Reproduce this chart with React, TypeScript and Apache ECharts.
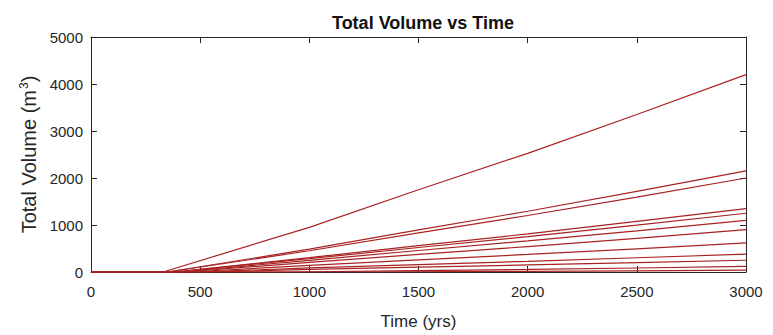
import React, { useEffect, useRef } from "react";
import * as echarts from "echarts";

const titleText = "Total Volume vs Time";
const xName = "Time (yrs)";
const yName = "Total Volume (m{sup|3})";
const xTicks = { min: 0, max: 3000, interval: 500 };
const yTicks = { min: 0, max: 5000, interval: 1000 };

// each series: [time, volume] points
const lineA = [[0, 0], [330, 0], [1000, 950], [1500, 1750], [2000, 2525], [2500, 3350], [3000, 4200]];
const lineB = [[0, 0], [350, 0], [1000, 486], [1500, 896], [2000, 1293], [2500, 1715], [3000, 2150]];
const lineC = [[0, 0], [350, 0], [1000, 452], [1500, 833], [2000, 1202], [2500, 1595], [3000, 2000]];
const lineD = [[0, 0], [380, 0], [1000, 305], [1500, 562], [2000, 811], [2500, 1076], [3000, 1350]];
const lineE = [[0, 0], [380, 0], [1000, 283], [1500, 521], [2000, 751], [2500, 997], [3000, 1250]];
const lineF = [[0, 0], [400, 0], [1000, 249], [1500, 458], [2000, 661], [2500, 877], [3000, 1100]];
const lineG = [[0, 0], [420, 0], [1000, 204], [1500, 375], [2000, 541], [2500, 717], [3000, 900]];
const lineH = [[0, 0], [450, 0], [1000, 140], [1500, 258], [2000, 373], [2500, 494], [3000, 620]];
const lineI = [[0, 0], [500, 0], [1000, 86], [1500, 158], [2000, 228], [2500, 303], [3000, 380]];
const lineJ = [[0, 0], [550, 0], [1000, 55], [1500, 104], [2000, 150], [2500, 200], [3000, 250]];
const lineK = [[0, 0], [900, 0], [1500, 30], [2000, 55], [2500, 85], [3000, 120]];
const lineL = [[0, 0], [1200, 0], [2000, 15], [2500, 25], [3000, 40]];

const allLines = [lineA, lineB, lineC, lineD, lineE, lineF, lineG, lineH, lineI, lineJ, lineK, lineL];

const lineColor = "#a82222";
const axisColor = "#262626";
const fontFamily = "'Liberation Sans', Arial, Helvetica, sans-serif";

export default function App() {
  const ref = useRef<HTMLDivElement>(null);
  useEffect(() => {
    document.body.style.margin = "0";
    if (!ref.current) return;
    const chart = echarts.init(ref.current, null, { renderer: "svg" });
    const axisLine = { show: true, onZero: false, lineStyle: { color: axisColor, width: 1 } };
    const tick = { show: true, inside: true, length: 6, lineStyle: { color: axisColor, width: 1 } };
    const fmt = (v: number) => String(v);
    chart.setOption({
      animation: false,
      backgroundColor: "#ffffff",
      textStyle: { fontFamily },
      title: {
        text: titleText,
        left: 418,
        textAlign: "center",
        top: 9,
        textStyle: { fontSize: 18, fontWeight: "bold", color: "#111", fontFamily },
      },
      grid: { left: 91, right: 27, top: 37, bottom: 60 },
      xAxis: [
        {
          type: "value",
          min: xTicks.min,
          max: xTicks.max,
          interval: xTicks.interval,
          name: xName,
          nameLocation: "middle",
          nameGap: 41,
          nameTextStyle: { fontSize: 17, color: axisColor, fontFamily },
          axisLine,
          axisTick: tick,
          axisLabel: { fontSize: 15, color: axisColor, margin: 12, fontFamily, formatter: fmt },
          splitLine: { show: false },
        },
        {
          type: "value",
          position: "top",
          min: xTicks.min,
          max: xTicks.max,
          interval: xTicks.interval,
          axisLine,
          axisTick: tick,
          axisLabel: { show: false },
          splitLine: { show: false },
        },
      ],
      yAxis: [
        {
          type: "value",
          min: yTicks.min,
          max: yTicks.max,
          interval: yTicks.interval,
          name: yName,
          nameLocation: "middle",
          nameGap: 47,
          nameTextStyle: {
            fontSize: 20,
            color: axisColor,
            fontFamily,
            rich: { sup: { fontSize: 12, verticalAlign: "top", padding: [0, 0, 10, 1], color: axisColor, fontFamily } },
          },
          axisLine,
          axisTick: tick,
          axisLabel: { fontSize: 15, color: axisColor, margin: 8, fontFamily, formatter: fmt },
          splitLine: { show: false },
        },
        {
          type: "value",
          position: "right",
          min: yTicks.min,
          max: yTicks.max,
          interval: yTicks.interval,
          axisLine,
          axisTick: tick,
          axisLabel: { show: false },
          splitLine: { show: false },
        },
      ],
      series: allLines.map((d, i) => ({
        type: "line",
        name: "s" + i,
        data: d,
        xAxisIndex: 0,
        yAxisIndex: 0,
        showSymbol: false,
        symbol: "none",
        smooth: false,
        lineStyle: { color: lineColor, width: 1.2 },
        itemStyle: { color: lineColor },
      })),
    });
    return () => chart.dispose();
  }, []);
  return <div ref={ref} style={{ width: 773, height: 335 }} />;
}
